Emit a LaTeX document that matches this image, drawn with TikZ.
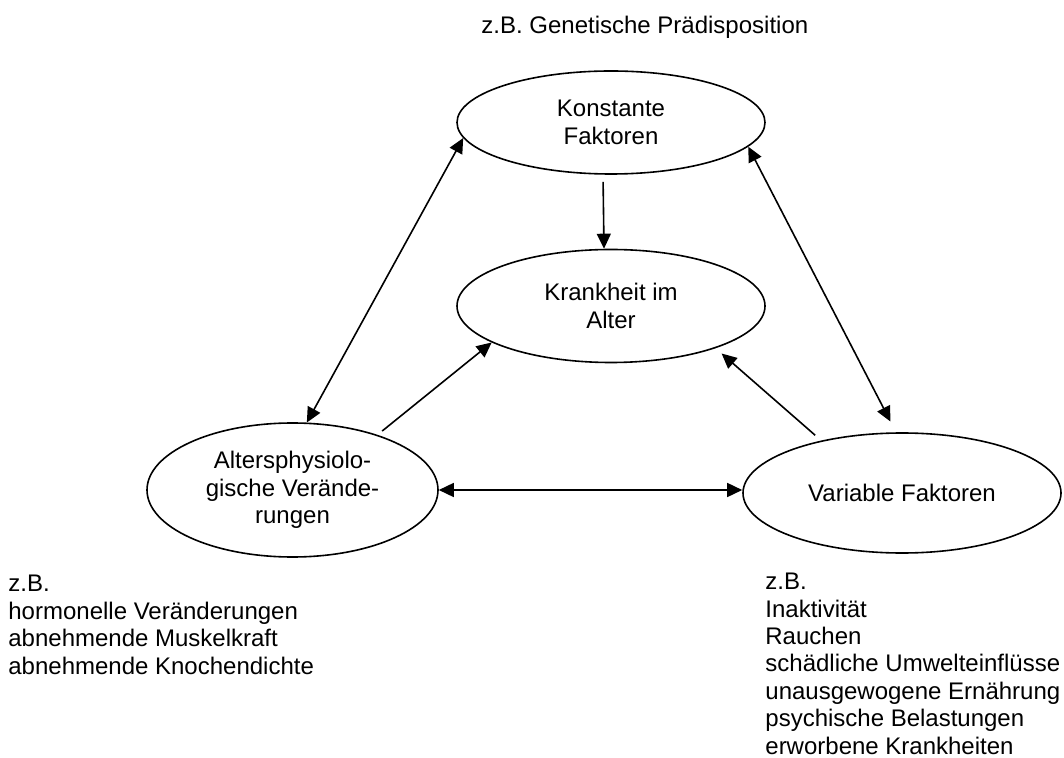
\documentclass[tikz,border=0pt]{standalone}
\usepackage{fontspec}
\setmainfont{Liberation Sans}
\usetikzlibrary{shapes.geometric}
\usetikzlibrary{arrows.meta}

\begin{document}
\begin{tikzpicture}[
    x=0.5pt, y=-0.5pt,
    font=\fontsize{12}{13.7}\selectfont,
    oval/.style={ellipse, draw, line width=0.8pt, inner sep=0pt, align=center},
    note/.style={anchor=base west, inner sep=0pt, align=left},
    pfeil/.style={-{Triangle[length=7.5pt,width=7pt]}, line width=0.8pt},
    doppel/.style={{Triangle[length=7.5pt,width=7pt]}-{Triangle[length=7.5pt,width=7pt]}, line width=0.8pt}
  ]
  \useasboundingbox (0,0) rectangle (1064,758);

  \node[oval, minimum width=154pt, minimum height=51.5pt] (konst) at (611,122.5) {Konstante\\Faktoren};
  \node[oval, minimum width=154pt, minimum height=56.5pt] (krank) at (611,306) {Krankheit im\\Alter};
  \node[oval, minimum width=145.5pt, minimum height=67pt] (alters) at (292.5,490) {Altersphysiolo-\\gische Verände-\\rungen};
  \node[oval, minimum width=159pt, minimum height=60pt] (var) at (902,493) {Variable Faktoren};

  % base = Grundlinie der letzten Zeile
  \node[note] (genbsp) at (481,34) {z.B. Genetische Prädisposition};
  \node[note] (altbsp) at (8,674) {z.B.\\hormonelle Veränderungen\\abnehmende Muskelkraft\\abnehmende Knochendichte};
  \node[note] (varbsp) at (765,754) {z.B.\\Inaktivität\\Rauchen\\schädliche Umwelteinflüsse\\unausgewogene Ernährung\\psychische Belastungen\\erworbene Krankheiten};

  \draw[pfeil, shorten <=3.5pt] ([xshift=-4pt]konst.south) -- ([xshift=-3.5pt]krank.north);
  \draw[doppel] (konst.186) -- (alters.78);
  \draw[doppel, shorten >=6pt] (konst.350) -- ([xshift=-3pt]var.north);
  \draw[pfeil, shorten <=3pt] (alters.33) -- (krank.197);
  \draw[pfeil, shorten <=4pt, shorten >=4pt] (var.147) -- (krank.338);
  \draw[doppel] (alters.east) -- (alters.east -| var.west);
\end{tikzpicture}
\end{document}
